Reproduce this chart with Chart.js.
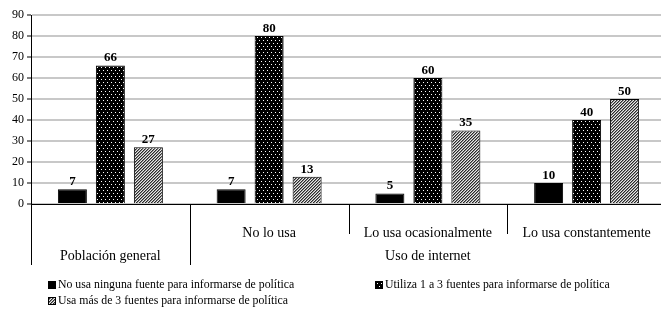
<!DOCTYPE html>
<html>
<head>
<meta charset="utf-8">
<script src="https://cdn.jsdelivr.net/npm/chart.js@4.4.0/dist/chart.umd.min.js"></script>
<style>
html,body{margin:0;padding:0;background:#fff;overflow:hidden;}
#wrap{width:668px;height:315px;position:relative;}
</style>
</head>
<body>
<div id="wrap"><canvas id="c"></canvas></div>
<script>
const categories = ["", "No lo usa", "Lo usa ocasionalmente", "Lo usa constantemente"];
const groupLabels = ["Población general", "Uso de internet"];
const groupSpans = [1, 3];
const seriesNames = [
  "No usa ninguna fuente para informarse de política",
  "Utiliza 1 a 3 fuentes para informarse de política",
  "Usa más de 3 fuentes para informarse de política"
];
const noneValues = [7, 7, 5, 10];
const oneToThreeValues = [66, 80, 60, 40];
const moreThanThreeValues = [27, 13, 35, 50];
const yTicks = [0, 10, 20, 30, 40, 50, 60, 70, 80, 90];

function makePattern(type) {
  const c = document.createElement('canvas');
  const ctx = c.getContext('2d');
  if (type === 'dots') {
    c.width = 4; c.height = 6;
    ctx.fillStyle = '#000'; ctx.fillRect(0, 0, 4, 6);
    ctx.fillStyle = '#fff';
    ctx.fillRect(1, 1, 1, 1);
    ctx.fillRect(3, 4, 1, 1);
  } else {
    c.width = 3; c.height = 3;
    ctx.fillStyle = '#e8e8e8'; ctx.fillRect(0, 0, 3, 3);
    for (let i = 0; i < 3; i++) {
      ctx.fillStyle = '#2a2a2a';
      ctx.fillRect(i, 2 - i, 1, 1);
      ctx.fillStyle = '#8a8a8a';
      ctx.fillRect(i, (3 - i) % 3, 1, 1);
    }
  }
  return c.getContext('2d').createPattern(c, 'repeat');
}
const dotPat = makePattern('dots');
const hatchPat = makePattern('hatch');
const fills = ['#000', dotPat, hatchPat];

const SERIF = '"Liberation Serif", "Times New Roman", serif';

const extras = {
  id: 'extras',
  afterDatasetsDraw(chart) {
    const ctx = chart.ctx;
    ctx.save();
    ctx.fillStyle = '#000';
    ctx.font = 'bold 13px ' + SERIF;
    ctx.textAlign = 'center';
    ctx.textBaseline = 'bottom';
    chart.data.datasets.forEach((ds, di) => {
      const meta = chart.getDatasetMeta(di);
      meta.data.forEach((bar, i) => {
        ctx.fillText(String(ds.data[i]), bar.x, bar.y - 1);
      });
    });
    ctx.restore();
  },
  afterDraw(chart) {
    const ctx = chart.ctx;
    const area = chart.chartArea;
    const n = categories.length;
    const w = (area.right - area.left) / n;
    ctx.save();
    ctx.strokeStyle = '#000';
    ctx.lineWidth = 1;
    let groupStarts = [0];
    let acc = 0;
    groupSpans.forEach(s => { acc += s; groupStarts.push(acc); });
    for (let i = 0; i <= n; i++) {
      const x = Math.round(area.left + i * w) + 0.5;
      const isGroup = groupStarts.includes(i);
      ctx.beginPath();
      ctx.moveTo(x, area.bottom);
      ctx.lineTo(x, area.bottom + (isGroup ? 61 : 30));
      ctx.stroke();
    }
    ctx.fillStyle = '#000';
    ctx.font = '14px ' + SERIF;
    ctx.textAlign = 'center';
    ctx.textBaseline = 'middle';
    for (let g = 0; g < groupLabels.length; g++) {
      const x0 = area.left + groupStarts[g] * w;
      const x1 = area.left + groupStarts[g + 1] * w;
      ctx.fillText(groupLabels[g], (x0 + x1) / 2, area.bottom + 52);
    }
    ctx.font = '11.8px ' + SERIF;
    ctx.textAlign = 'left';
    const pos = [[48, 285], [375, 285], [48, 301]];
    seriesNames.forEach((name, i) => {
      const [lx, ly] = pos[i];
      ctx.fillStyle = fills[i];
      ctx.fillRect(lx, ly - 4, 8, 8);
      ctx.strokeStyle = '#000';
      ctx.strokeRect(lx + 0.5, ly - 3.5, 7, 7);
      ctx.fillStyle = '#000';
      ctx.fillText(name, lx + 10, ly);
    });
    ctx.restore();
  }
};

new Chart(document.getElementById('c'), {
  type: 'bar',
  data: {
    labels: categories,
    datasets: [
      { label: seriesNames[0], data: noneValues, backgroundColor: fills[0] },
      { label: seriesNames[1], data: oneToThreeValues, backgroundColor: fills[1] },
      { label: seriesNames[2], data: moreThanThreeValues, backgroundColor: fills[2] }
    ].map(d => Object.assign(d, {
      borderColor: '#000', borderWidth: 1, borderSkipped: 'bottom',
      categoryPercentage: 0.718, barPercentage: 0.763
    }))
  },
  options: {
    responsive: true,
    maintainAspectRatio: false,
    animation: false,
    layout: { padding: { top: 15, bottom: 49, left: 0, right: 2 } },
    plugins: { legend: { display: false }, tooltip: { enabled: false } },
    scales: {
      x: {
        grid: { display: false },
        border: { display: true, color: '#000', width: 1 },
        ticks: { color: '#000', font: { family: SERIF, size: 14 }, padding: 13, maxRotation: 0, autoSkip: false },
        afterFit(scale) { scale.height = 62; }
      },
      y: {
        min: 0, max: 90,
        afterBuildTicks(scale) { scale.ticks = yTicks.map(v => ({ value: v })); },
        grid: { color: '#c8c8c8', lineWidth: 2, tickLength: 4, tickColor: '#000', tickWidth: 1 },
        border: { display: true, color: '#000', width: 1 },
        ticks: { color: '#000', font: { family: SERIF, size: 12 }, padding: 3 },
        afterFit(scale) { scale.width = 31; }
      }
    }
  },
  plugins: [extras]
});
</script>
</body>
</html>
